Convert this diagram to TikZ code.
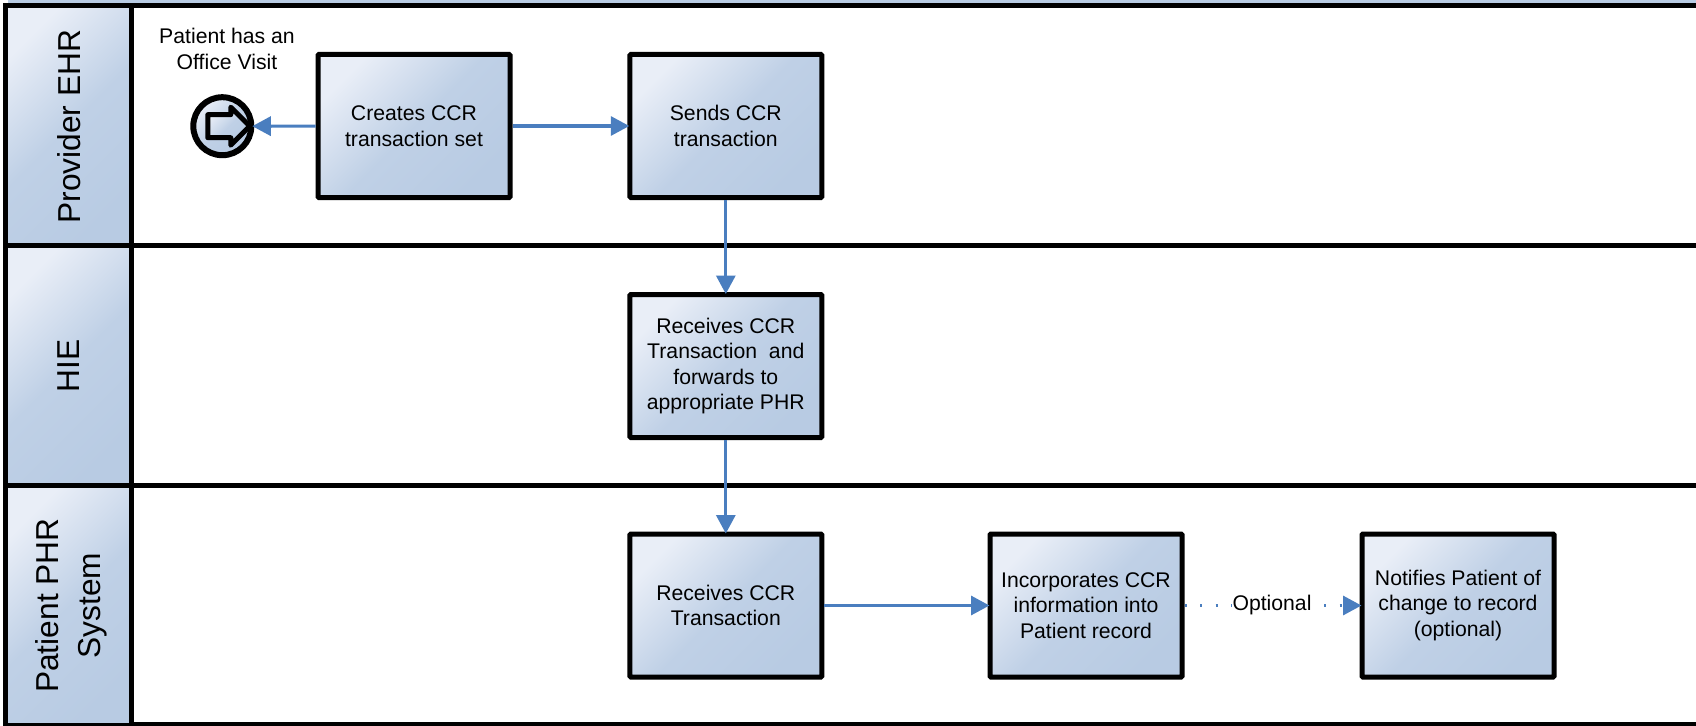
\documentclass[tikz,border=0pt]{standalone}
\usepackage{fontspec}
\setmainfont{Liberation Sans}
\usetikzlibrary{arrows.meta,shapes.arrows}
\definecolor{palefill}{HTML}{E9EEF7}
\definecolor{deepfill}{HTML}{B8CBE3}
\definecolor{flowblue}{HTML}{4A7EBF}
\tikzset{
    blue shade/.style={top color=palefill, bottom color=deepfill, middle color=deepfill!85!palefill, shading angle=45},
    task/.style={draw, line width=5pt, outer sep=2.5pt, blue shade, minimum width=192pt, minimum height=143pt, align=center, inner sep=0pt, rounded corners=1pt, font=\fontsize{21.2}{25.5}\selectfont},
    lane/.style={draw, line width=5pt, blue shade, minimum width=126pt, minimum height=240pt, inner sep=0pt},
    lanetitle/.style={rotate=90, align=center, inner sep=0pt, font=\fontsize{31.7}{42}\selectfont},
    rule/.style={line width=5.3pt},
    flow/.style={draw=flowblue, line width=3.2pt, shorten >=-2pt, -{Triangle[length=18.5pt,width=19pt]}},
    note/.style={align=center, inner sep=1pt, font=\fontsize{21.2}{26}\selectfont},
}
\begin{document}
\begin{tikzpicture}[x=1pt,y=-1pt]
    \useasboundingbox (0,0) rectangle (1696,725);
    \fill[deepfill] (8,0) rectangle (1696,4);
    \draw[rule] (6,5.8) -- (1696,5.8);
    \draw[rule] (6,245.5) -- (1696,245.5);
    \draw[rule] (6,485.8) -- (1696,485.8);
    \draw[rule] (6,725) -- (1696,725);

    \node[lane] (ehr) at (68.8,125.7) {};
    \node[lane] (hie) at (68.8,365.6) {};
    \node[lane] (phr) at (68.8,605.6) {};
    \node[lanetitle, xshift=-1pt] at (ehr) {Provider EHR};
    \node[lanetitle] at (hie) {HIE};
    \node[lanetitle, yshift=-3pt] at (phr) {Patient PHR\\System};

    \node[note] (visit) at (227,48.5) {Patient has an\\Office Visit};
    \node[circle, draw, line width=6pt, outer sep=3pt, blue shade, minimum size=58pt, inner sep=0pt] (start) at (222.3,126.2) {};
    \node[single arrow, draw, line width=5pt, line join=round, blue shade, minimum height=42pt, minimum width=33pt, single arrow head extend=7.5pt, inner sep=9pt, outer sep=0pt] (glyph) at (223,126.2) {};

    \node[task] (creates) at (414,126) {Creates CCR\\transaction set};
    \node[task] (sends) at (725.8,126) {Sends CCR\\transaction};
    \node[task] (receives) at (725.8,366) {Receives CCR\\Transaction\ \ and\\forwards to\\appropriate PHR};
    \node[task] (arrives) at (725.8,605.5) {Receives CCR\\Transaction};
    \node[task] (merges) at (1086,605.5) {Incorporates CCR\\information into\\Patient record};
    \node[task] (notifies) at (1458,605.5) {Notifies Patient of\\change to record\\(optional)};

    \draw[flow] (creates) -- (start);
    \draw[flow] (creates) -- (sends);
    \draw[flow] (sends) -- (receives);
    \draw[flow] (receives) -- (arrives);
    \draw[flow] (arrives) -- (merges);
    \draw[flow, dash pattern=on 2pt off 13.5pt] (merges) -- node[note, fill=white] {Optional} (notifies);
\end{tikzpicture}
\end{document}
